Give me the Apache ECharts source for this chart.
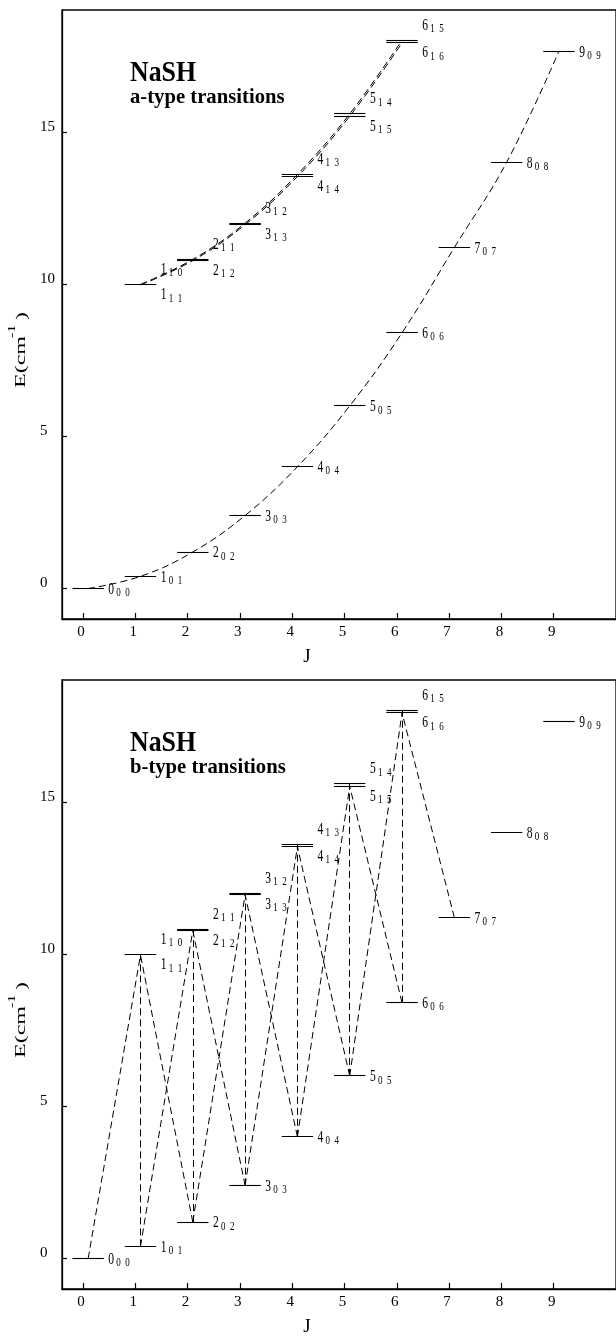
<!DOCTYPE html>
<html><head><meta charset="utf-8">
<script src="https://cdn.jsdelivr.net/npm/echarts@6/dist/echarts.min.js"></script>
<style>html,body{margin:0;padding:0;background:#fff}#c{width:616px;height:1341px}</style>
</head><body><div id="c"></div>
<script>
// ---- data ----
// K=0 levels J_{0,J}
const jK0 = [0, 1, 2, 3, 4, 5, 6, 7, 8, 9];
const eK0 = [0, 0.4, 1.2, 2.4, 4.0, 6.0, 8.4, 11.2, 14.0, 17.65];
// K=1 levels
const jK1 = [1, 2, 3, 4, 5, 6];
const eK1Lower = [9.97, 10.77, 11.95, 13.53, 15.51, 17.92]; // J_{1,J}
const eK1Upper = [9.99, 10.81, 12.00, 13.60, 15.59, 18.01]; // J_{1,J-1}
const xTicks = [0, 1, 2, 3, 4, 5, 6, 7, 8, 9];
const yTicks = [0, 5, 10, 15];
const molecule = 'NaSH';
const panelTitles = ['a-type transitions', 'b-type transitions'];
const xName = 'J';
// b-type transitions between levels named J Ka Kc
const bTransitions = [
  ['000', '111'],
  ['101', '110'], ['101', '212'],
  ['202', '111'], ['202', '211'], ['202', '313'],
  ['303', '212'], ['303', '312'], ['303', '414'],
  ['404', '313'], ['404', '413'], ['404', '515'],
  ['505', '414'], ['505', '514'], ['505', '616'],
  ['606', '515'], ['606', '615'],
  ['707', '616']
];

// ---- layout constants ----
const BAR_L = -0.2, BAR_R = 0.4, BAR_C = 0.1;
const FONT = '"Liberation Serif", "Times New Roman", serif';
const DASH = [7, 4];

// build level list
const levels = [];
jK0.forEach((j, i) => levels.push({J: j, Ka: 0, Kc: j, E: eK0[i], pos: 0}));
jK1.forEach((j, i) => levels.push({J: j, Ka: 1, Kc: j, E: eK1Lower[i], pos: -1}));
jK1.forEach((j, i) => levels.push({J: j, Ka: 1, Kc: j - 1, E: eK1Upper[i], pos: 1}));
const lvMap = {};
levels.forEach(l => { lvMap['' + l.J + l.Ka + l.Kc] = [l.J + BAR_C, l.E]; });
const levelData = levels.map(l => [l.J, l.E, l.Ka, l.Kc, l.pos]);

function renderLevel(params, api) {
  const J = api.value(0), E = api.value(1), Ka = api.value(2), Kc = api.value(3), pos = api.value(4);
  const a = api.coord([J + BAR_L, E]);
  const b = api.coord([J + BAR_R, E]);
  const y = Math.round(a[1] - 0.5) + 0.5;
  const ly = pos === 0 ? a[1] + 1 : (pos > 0 ? a[1] - 15 : a[1] + 10);
  const lx = b[0] + 4.5;
  return {
    type: 'group',
    children: [
      {type: 'line', shape: {x1: a[0], y1: y, x2: b[0], y2: y},
       style: {stroke: '#000', lineWidth: 1.1}},
      {type: 'text', x: lx, y: ly, scaleX: 0.68,
       style: {text: String(J), font: '17px ' + FONT, fill: '#000', align: 'left', verticalAlign: 'middle'}},
      {type: 'text', x: lx + 8, y: ly + 3.4, scaleX: 0.72,
       style: {text: Ka + '\u2002' + Kc, font: '12.5px ' + FONT, fill: '#000', align: 'left', verticalAlign: 'middle'}}
    ]
  };
}

const PANEL_TOP = [10, 680];
const PANEL_H = 609;

function gridCfg(top) {
  return {left: 62, top: top, width: 556, height: PANEL_H, show: true,
          borderColor: '#000', borderWidth: 1.3, backgroundColor: 'transparent'};
}
function xAxisCfg(gi) {
  return {
    gridIndex: gi, type: 'value', min: -0.4, max: 10.19, position: 'bottom',
    axisLine: {show: true, onZero: false, lineStyle: {color: '#000', width: 1.3}}, splitLine: {show: false},
    axisTick: {show: true, inside: true, length: 6, customValues: xTicks, lineStyle: {color: '#000', width: 1.2}},
    axisLabel: {customValues: xTicks, color: '#000', fontFamily: FONT, fontSize: 15, margin: 6, padding: [0, 4, 0, 0]}
  };
}
function yAxisCfg(gi) {
  return {
    gridIndex: gi, type: 'value', min: -1, max: 19, position: 'left',
    axisLine: {show: true, onZero: false, lineStyle: {color: '#000', width: 1.3}}, splitLine: {show: false},
    axisTick: {show: true, inside: true, length: 5, customValues: yTicks, lineStyle: {color: '#000', width: 1.2}},
    axisLabel: {customValues: yTicks, color: '#000', fontFamily: FONT, fontSize: 15, align: 'left',
                verticalAlign: 'bottom', lineHeight: 10, margin: 22}
  };
}

function chainSeries(js, es) {
  return {
    type: 'line', xAxisIndex: 0, yAxisIndex: 0, silent: true,
    data: js.map((j, i) => [j + BAR_C, es[i]]),
    smooth: 0.4, symbol: 'none', showSymbol: false,
    lineStyle: {color: '#000', width: 1, type: DASH}
  };
}

const graphics = [];
PANEL_TOP.forEach((top, p) => {
  const dy = top - PANEL_TOP[0];
  graphics.push(
    {type: 'text', x: 130, y: 73 + dy, scaleX: 0.86,
     style: {text: molecule, font: 'bold 30px ' + FONT, fill: '#000', align: 'left', verticalAlign: 'middle'}},
    {type: 'text', x: 130, y: 97.5 + dy, scaleX: 0.94,
     style: {text: panelTitles[p], font: 'bold 22px ' + FONT, fill: '#000', align: 'left', verticalAlign: 'middle'}},
    {type: 'text', x: 21.7, y: 388 + dy, rotation: Math.PI / 2, scaleY: 0.6,
     style: {text: 'E(cm', font: '24px ' + FONT, fill: '#000', align: 'left', verticalAlign: 'middle'}},
    {type: 'text', x: 12.5, y: 338 + dy, rotation: Math.PI / 2, scaleY: 0.6,
     style: {text: '-1', font: '16px ' + FONT, fill: '#000', align: 'left', verticalAlign: 'middle'}},
    {type: 'text', x: 22.5, y: 320 + dy, rotation: Math.PI / 2, scaleY: 0.6,
     style: {text: ')', font: '24px ' + FONT, fill: '#000', align: 'left', verticalAlign: 'middle'}},
    {type: 'text', x: 307, y: 657 + dy,
     style: {text: xName, font: '19px ' + FONT, fill: '#000', align: 'center', verticalAlign: 'middle'}}
  );
});

const chart = echarts.init(document.getElementById('c'), null, {renderer: 'canvas'});
chart.setOption({
  animation: false,
  backgroundColor: '#fff',
  grid: [gridCfg(PANEL_TOP[0]), gridCfg(PANEL_TOP[1])],
  xAxis: [xAxisCfg(0), xAxisCfg(1)],
  yAxis: [yAxisCfg(0), yAxisCfg(1)],
  graphic: graphics,
  series: [
    chainSeries(jK0, eK0),
    chainSeries(jK1, eK1Lower),
    chainSeries(jK1, eK1Upper),
    {type: 'custom', xAxisIndex: 0, yAxisIndex: 0, silent: true, renderItem: renderLevel, data: levelData, encode: {x: 0, y: 1}},
    {type: 'lines', coordinateSystem: 'cartesian2d', xAxisIndex: 1, yAxisIndex: 1, silent: true,
     data: bTransitions.map(([a, b]) => ({coords: [lvMap[a], lvMap[b]]})),
     lineStyle: {color: '#000', width: 1, type: DASH, opacity: 1, curveness: 0}},
    {type: 'custom', xAxisIndex: 1, yAxisIndex: 1, silent: true, renderItem: renderLevel, data: levelData, encode: {x: 0, y: 1}}
  ]
});
</script></body></html>
